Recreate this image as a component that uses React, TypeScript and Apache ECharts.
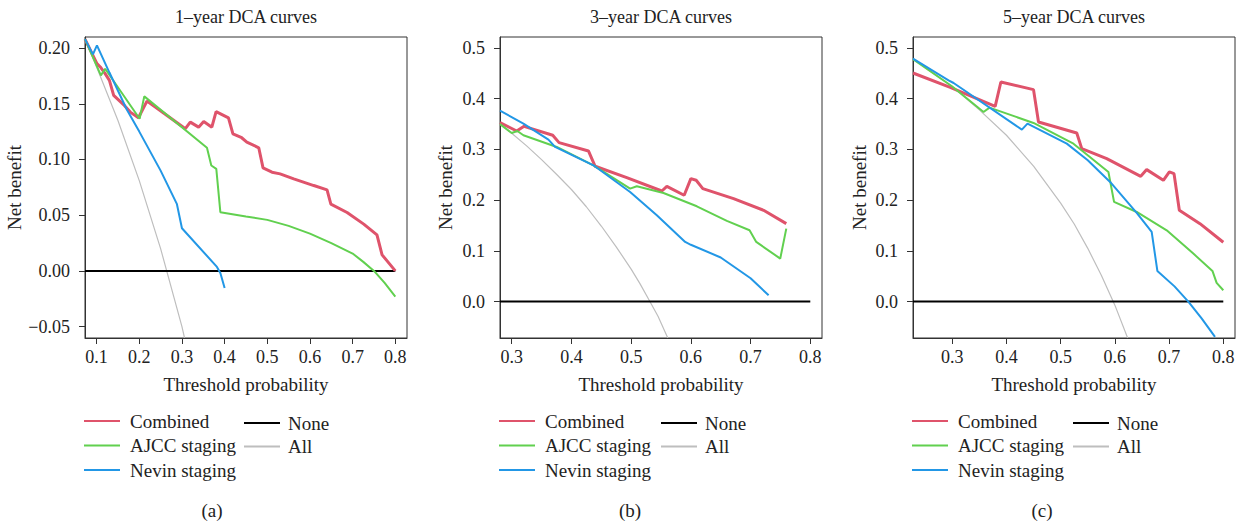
import React, { useEffect, useRef } from "react";
import * as echarts from "echarts";

const FONT = '"Liberation Serif", "Times New Roman", serif';

const seriesNames = ["Combined", "AJCC staging", "Nevin staging", "None", "All"];
const seriesColors = ["#DF536B", "#61D04F", "#2297E6", "#000000", "#BEBEBE"];
const panelTitles = ["1\u2013year DCA curves", "3\u2013year DCA curves", "5\u2013year DCA curves"];
const captions = ["(a)", "(b)", "(c)"];

const xTicksA = [0.1, 0.2, 0.3, 0.4, 0.5, 0.6, 0.7, 0.8];
const xTicksB = [0.3, 0.4, 0.5, 0.6, 0.7, 0.8];
const xTicksC = [0.3, 0.4, 0.5, 0.6, 0.7, 0.8];
const yTicksA = [-0.05, 0, 0.05, 0.1, 0.15, 0.2];
const yTicksBC = [0, 0.1, 0.2, 0.3, 0.4, 0.5];

// Panel (a) 1-year
const aCombined = [[0.0728,0.208],[0.1008,0.186],[0.1086,0.183],[0.12,0.177],[0.13,0.171],[0.14,0.1575],[0.165,0.1485],[0.179,0.1425],[0.198,0.1374],[0.218,0.1524],[0.308,0.1276],[0.3195,0.1335],[0.339,0.129],[0.351,0.134],[0.37,0.129],[0.38,0.143],[0.409,0.1374],[0.4195,0.123],[0.44,0.1195],[0.452,0.1156],[0.48,0.1105],[0.49,0.0925],[0.511,0.0886],[0.53,0.0871],[0.562,0.0826],[0.609,0.0766],[0.64,0.0727],[0.649,0.06],[0.687,0.0524],[0.726,0.042],[0.757,0.0323],[0.769,0.0144],[0.8,0.0]];
const aAjcc = [[0.0728,0.208],[0.11,0.1755],[0.12,0.1814],[0.2008,0.1365],[0.2117,0.1566],[0.3586,0.1105],[0.3688,0.0946],[0.3805,0.0916],[0.39,0.0527],[0.45,0.0488],[0.5,0.0458],[0.55,0.0404],[0.6,0.0335],[0.65,0.025],[0.7,0.0156],[0.725,0.0081],[0.75,0.0],[0.775,-0.0108],[0.8,-0.0231]];
const aNevin = [[0.0728,0.208],[0.0914,0.1943],[0.1008,0.2024],[0.13,0.178],[0.171,0.1446],[0.2,0.125],[0.25,0.09],[0.288,0.0602],[0.3,0.0383],[0.382,0.0036],[0.39,-0.0018],[0.4,-0.0153]];
const aNone = [[0.0728,0],[0.8,0]];
const aAll = [[0.0728,0.208],[0.1,0.183],[0.15,0.135],[0.2,0.081],[0.25,0.02],[0.3,-0.05],[0.306,-0.06]];

// Panel (b) 3-year
const bCombined = [[0.2804,0.3528],[0.3084,0.3364],[0.3207,0.3456],[0.3687,0.3279],[0.3793,0.3134],[0.4285,0.297],[0.4397,0.2668],[0.4927,0.2444],[0.5514,0.2181],[0.5598,0.2273],[0.5888,0.2096],[0.6,0.2424],[0.6089,0.2392],[0.62,0.2227],[0.6715,0.203],[0.7218,0.18],[0.7598,0.1537]];
const bAjcc = [[0.2804,0.35],[0.3,0.3325],[0.3095,0.3364],[0.3196,0.3279],[0.3754,0.3049],[0.4369,0.2687],[0.4983,0.2227],[0.5095,0.2273],[0.5542,0.2142],[0.61,0.1879],[0.6603,0.159],[0.6983,0.1406],[0.7095,0.1176],[0.7497,0.0848],[0.7598,0.1439]];
const bNevin = [[0.2804,0.3765],[0.3196,0.3509],[0.3615,0.3193],[0.3726,0.3049],[0.4369,0.2687],[0.4983,0.2162],[0.543,0.1702],[0.5905,0.1176],[0.6,0.112],[0.65,0.087],[0.7,0.046],[0.7302,0.0125]];
const bNone = [[0.2804,0],[0.8,0]];
const bAll = [[0.2804,0.35],[0.3,0.332],[0.325,0.307],[0.35,0.28],[0.375,0.251],[0.4,0.221],[0.425,0.187],[0.45,0.149],[0.475,0.108],[0.5,0.064],[0.515,0.035],[0.53,0.003],[0.545,-0.029],[0.5614,-0.0718]];

// Panel (c) 5-year
const cCombined = [[0.2276,0.4507],[0.2963,0.4225],[0.3792,0.385],[0.3897,0.433],[0.4499,0.4179],[0.4591,0.3541],[0.5297,0.3325],[0.5389,0.3016],[0.585,0.2819],[0.6477,0.247],[0.6587,0.2602],[0.6894,0.2392],[0.7005,0.2556],[0.7091,0.2523],[0.7189,0.18],[0.757,0.1537],[0.8,0.117]];
const cAjcc = [[0.2276,0.478],[0.3,0.424],[0.3577,0.3738],[0.3688,0.3824],[0.4499,0.3522],[0.5236,0.3114],[0.5881,0.2556],[0.5985,0.1965],[0.6403,0.1767],[0.6956,0.1406],[0.7447,0.0946],[0.78,0.0604],[0.7877,0.0368],[0.8,0.0223]];
const cNevin = [[0.2276,0.479],[0.2932,0.4363],[0.3025,0.431],[0.4284,0.339],[0.4388,0.3509],[0.5113,0.3114],[0.55,0.2786],[0.5912,0.2359],[0.6403,0.1748],[0.6679,0.1373],[0.6784,0.0604],[0.71,0.03],[0.7355,0.0],[0.76,-0.033],[0.7847,-0.0697]];
const cNone = [[0.2276,0],[0.8,0]];
const cAll = [[0.2276,0.478],[0.3,0.424],[0.35,0.378],[0.4,0.328],[0.45,0.267],[0.5,0.194],[0.525,0.153],[0.55,0.105],[0.575,0.052],[0.6,-0.007],[0.6236,-0.0718]];

const panelData = [
  [aCombined, aAjcc, aNevin, aNone, aAll],
  [bCombined, bAjcc, bNevin, bNone, bAll],
  [cCombined, cAjcc, cNevin, cNone, cAll],
];

const grids = [
  { left: 85, width: 322, xMin: 0.0728, xMax: 0.8274, yMin: -0.0602, yMax: 0.2099, xTicks: xTicksA, yTicks: yTicksA, yDec: 2, nameGap: 53, legendX: 84, legend2X: 244, capX: 212 },
  { left: 500, width: 322, xMin: 0.2804, xMax: 0.8196, yMin: -0.0718, yMax: 0.5217, xTicks: xTicksB, yTicks: yTicksBC, yDec: 1, nameGap: 45, legendX: 499, legend2X: 661, capX: 630 },
  { left: 913, width: 322, xMin: 0.2276, xMax: 0.8216, yMin: -0.0718, yMax: 0.5217, xTicks: xTicksC, yTicks: yTicksBC, yDec: 1, nameGap: 44, legendX: 912, legend2X: 1073, capX: 1042 },
];

const widths = [3, 2, 2, 2, 1.2];
const drawOrder = [4, 3, 0, 1, 2];

export default function App() {
  const ref = useRef<HTMLDivElement>(null);
  useEffect(() => {
    if (!ref.current) return;
    const chart = echarts.init(ref.current, undefined, { renderer: "svg" });
    const axisColor = "#333";
    const textColor = "#222";
    const fmt = (d: number) => (v: number) => {
      const s = Math.abs(v).toFixed(d);
      return v < -1e-9 ? "\u2212" + s : s;
    };
    const legendBase = {
      orient: "vertical", icon: "rect", itemWidth: 36, itemHeight: 2, selectedMode: false, padding: 0,
      lineStyle: { width: 2 },
    };
    const option: any = {
      animation: false,
      backgroundColor: "#fff",
      grid: grids.map((g) => ({
        left: g.left, top: 37, width: g.width, height: 301,
        show: true, borderColor: axisColor, borderWidth: 1, backgroundColor: "transparent",
      })),
      xAxis: grids.map((g, i) => ({
        gridIndex: i, type: "value", min: g.xMin, max: g.xMax,
        axisLine: { show: true, onZero: false, lineStyle: { color: axisColor } },
        axisTick: { show: true, length: 6, customValues: g.xTicks, lineStyle: { color: axisColor } },
        axisLabel: { customValues: g.xTicks, formatter: fmt(1), fontFamily: FONT, fontSize: 18, color: textColor, margin: 10 },
        splitLine: { show: false },
        name: "Threshold probability", nameLocation: "middle", nameGap: 37,
        nameTextStyle: { fontFamily: FONT, fontSize: 19, color: textColor },
      })),
      yAxis: grids.map((g, i) => ({
        gridIndex: i, type: "value", min: g.yMin, max: g.yMax,
        axisLine: { show: true, onZero: false, lineStyle: { color: axisColor } },
        axisTick: { show: true, length: 6, customValues: g.yTicks, lineStyle: { color: axisColor } },
        axisLabel: { customValues: g.yTicks, formatter: fmt(g.yDec), fontFamily: FONT, fontSize: 18, color: textColor, margin: 15 },
        splitLine: { show: false },
        name: "Net benefit", nameLocation: "middle", nameGap: g.nameGap, nameRotate: 90,
        nameTextStyle: { fontFamily: FONT, fontSize: 19, color: textColor },
      })),
      legend: grids.flatMap((g) => [
        {
          ...legendBase, left: g.legendX, top: 411, data: seriesNames.slice(0, 3), itemGap: 4.5,
          textStyle: { fontFamily: FONT, fontSize: 19, color: textColor, lineHeight: 20, padding: [0, 0, 0, 5] },
        },
        {
          ...legendBase, left: g.legend2X, top: 413, data: seriesNames.slice(3), itemGap: 3.5,
          textStyle: { fontFamily: FONT, fontSize: 19, color: textColor, lineHeight: 20, padding: [0, 0, 0, 3] },
        },
      ]),
      series: panelData.flatMap((pd, pi) =>
        drawOrder.map((si) => ({
          type: "line", name: seriesNames[si], xAxisIndex: pi, yAxisIndex: pi,
          data: pd[si], showSymbol: false, symbol: "none", smooth: false,
          itemStyle: { color: seriesColors[si] },
          lineStyle: { color: seriesColors[si], width: widths[si] },
          clip: true,
        }))
      ),
      graphic: [
        ...grids.map((g, i) => ({
          type: "text", x: g.left + g.width / 2, y: 17,
          style: { text: panelTitles[i], fontFamily: FONT, fontSize: 18, fill: textColor, align: "center", verticalAlign: "middle" },
        })),
        ...grids.map((g, i) => ({
          type: "text", x: g.capX, y: 510,
          style: { text: captions[i], fontFamily: FONT, fontSize: 19, fill: textColor, align: "center", verticalAlign: "middle" },
        })),
      ],
    };
    chart.setOption(option);
    return () => chart.dispose();
  }, []);
  return (
    <div
      ref={ref}
      style={{ position: "fixed", left: 0, top: 0, width: 1242, height: 521, background: "#fff" }}
    />
  );
}
